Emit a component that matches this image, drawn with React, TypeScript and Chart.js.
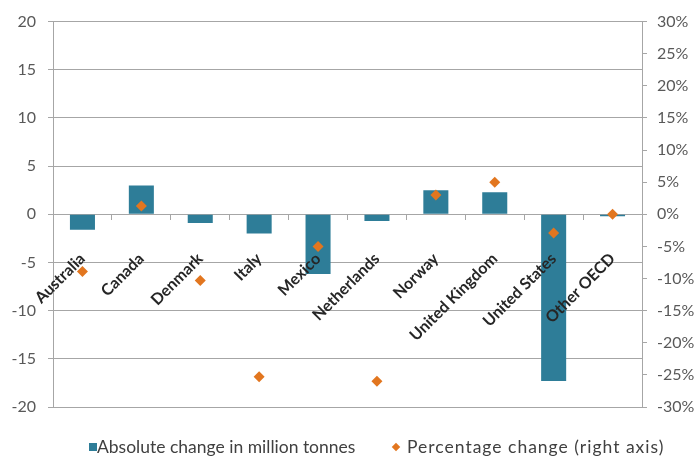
import React, { useEffect, useRef } from 'react';
import { Chart, registerables } from 'chart.js';

Chart.register(...registerables);

const categories = [
  'Australia',
  'Canada',
  'Denmark',
  'Italy',
  'Mexico',
  'Netherlands',
  'Norway',
  'United Kingdom',
  'United States',
  'Other OECD',
];
const absoluteChange = [-1.6, 3.0, -0.9, -2.0, -6.2, -0.7, 2.5, 2.3, -17.3, -0.2];
const percentageChange = [-8.9, 1.3, -10.3, -25.3, -5.0, -26.0, 3.0, 5.0, -2.9, 0.0];
const seriesNames = ['Absolute change in million tonnes', 'Percentage change (right axis)'];
const leftRange = [-20, 20, 5];
const rightRange = [-30, 30, 5];

const BAR_COLOR = '#2E7D98';
const DOT_COLOR = '#E2761F';
const GRID = '#A6A6A6';
const FONT = 'Lato, "Open Sans", sans-serif';

export default function App() {
  const ref = useRef<HTMLCanvasElement | null>(null);

  useEffect(() => {
    document.body.style.margin = '0';
    const canvas = ref.current;
    if (!canvas) return;

    const chart = new Chart(canvas, {
      type: 'bar',
      data: {
        labels: categories,
        datasets: [
          {
            type: 'bar',
            label: seriesNames[0],
            data: absoluteChange,
            backgroundColor: BAR_COLOR,
            yAxisID: 'y',
            categoryPercentage: 0.85,
            barPercentage: 0.5,
            order: 1,
          },
          {
            type: 'line',
            label: seriesNames[1],
            data: percentageChange,
            yAxisID: 'y2',
            showLine: false,
            pointStyle: 'rectRot',
            pointRadius: 5.5,
            pointBackgroundColor: DOT_COLOR,
            pointBorderWidth: 0,
            borderColor: DOT_COLOR,
            backgroundColor: DOT_COLOR,
            order: 0,
          },
        ],
      } as any,
      options: {
        animation: false,
        responsive: true,
        maintainAspectRatio: false,
        layout: { padding: { top: 20, bottom: 49, left: 0, right: 0 } },
        plugins: {
          tooltip: { enabled: false },
          legend: { display: false },
        },
        scales: {
          x: {
            position: { y: 0 } as any,
            offset: true,
            grid: {
              offset: true,
              drawOnChartArea: false,
              drawTicks: true,
              tickLength: 5,
              color: GRID,
            },
            border: { color: GRID },
            ticks: {
              z: 1,
              autoSkip: false,
              minRotation: 45,
              maxRotation: 45,
              padding: 30,
              color: '#262626',
              font: { family: FONT, size: 16, weight: 'bold' },
            },
          },
          y: {
            position: 'left',
            min: leftRange[0],
            max: leftRange[1],
            ticks: {
              stepSize: leftRange[2],
              color: '#595959',
              padding: 12,
              font: { family: FONT, size: 16 },
            },
            grid: { color: GRID, tickLength: 5 },
            border: { color: GRID },
            afterFit: (s: any) => {
              s.width = 53;
            },
          },
          y2: {
            position: 'right',
            min: rightRange[0],
            max: rightRange[1],
            ticks: {
              stepSize: rightRange[2],
              color: '#595959',
              padding: 10,
              font: { family: FONT, size: 16 },
              callback: (v: any) => `${v}%`,
            },
            grid: { drawOnChartArea: false, tickLength: 5, color: GRID },
            border: { color: GRID },
            afterFit: (s: any) => {
              s.width = 55;
            },
          },
        },
      } as any,
    });
    return () => chart.destroy();
  }, []);

  const legendText: React.CSSProperties = {
    position: 'absolute',
    top: 437,
    fontFamily: FONT,
    fontSize: 17.5,
    lineHeight: '20px',
    color: '#404040',
    whiteSpace: 'nowrap',
  };

  return (
    <div style={{ position: 'relative', width: 697, height: 456 }}>
      <canvas ref={ref} />
      <span
        style={{
          position: 'absolute',
          left: 89,
          top: 443,
          width: 8,
          height: 8,
          background: BAR_COLOR,
        }}
      />
      <span style={{ ...legendText, left: 97 }}>{seriesNames[0]}</span>
      <span
        style={{
          position: 'absolute',
          left: 393,
          top: 444,
          width: 6,
          height: 6,
          background: DOT_COLOR,
          transform: 'rotate(45deg)',
        }}
      />
      <span style={{ ...legendText, left: 407, letterSpacing: '1px' }}>{seriesNames[1]}</span>
    </div>
  );
}
